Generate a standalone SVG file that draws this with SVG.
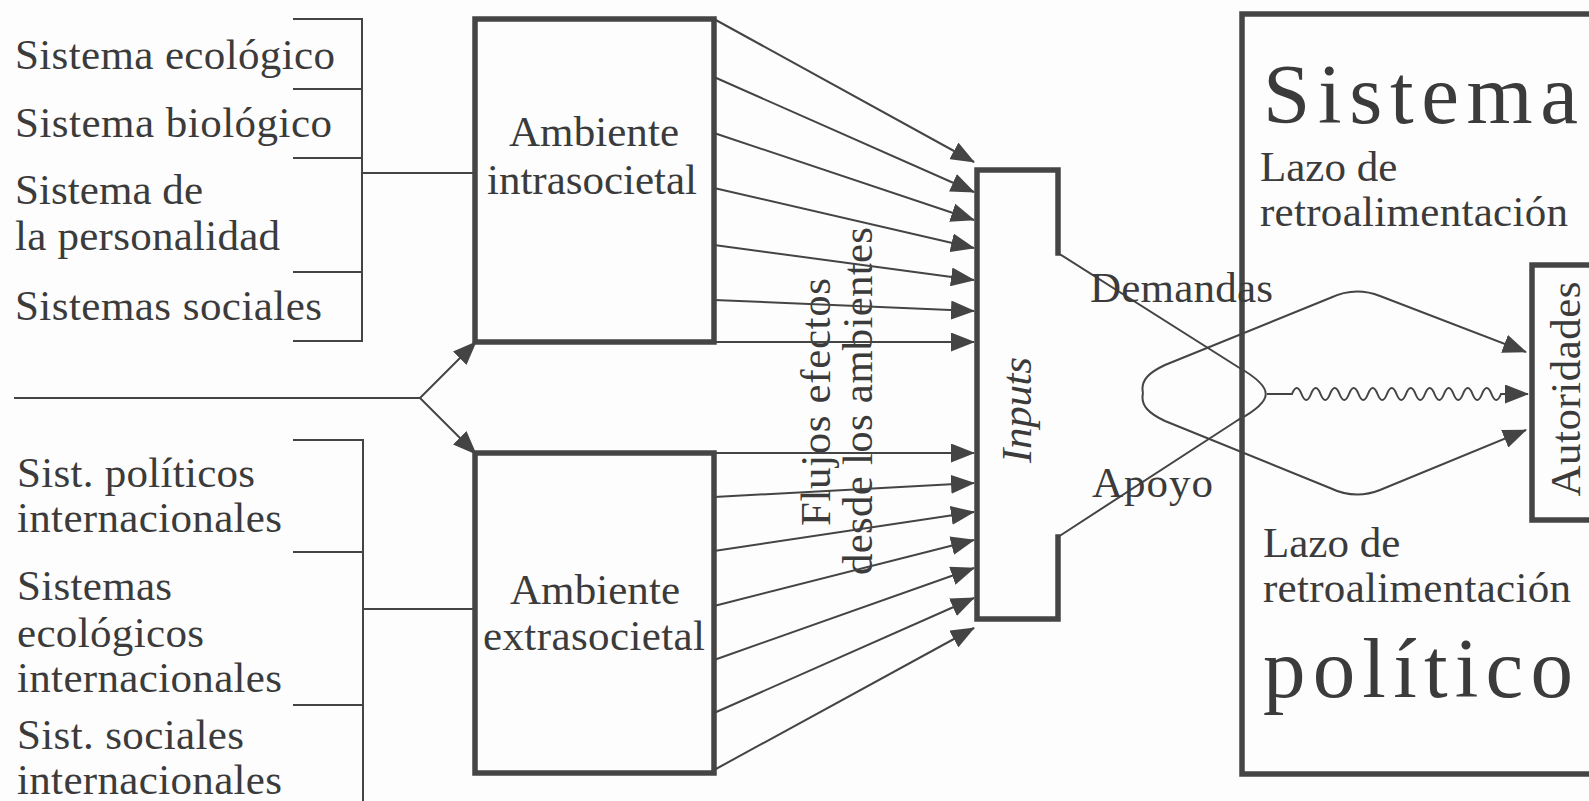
<svg xmlns="http://www.w3.org/2000/svg" width="1589" height="801" viewBox="0 0 1589 801">
<style>
  text { font-family: "Liberation Serif", "Times New Roman", serif; fill: #3b3b3b; font-size: 43px; }
  .big { font-size: 85px; }
  .thin { fill: none; stroke: #444; stroke-width: 2; }
  .thick { fill: none; stroke: #454545; stroke-width: 5.5; stroke-linecap: square; }
  .arr { fill: none; stroke: #444; stroke-width: 2; marker-end: url(#ah); }
  .mid { text-anchor: middle; }
</style>
<defs>
  <marker id="ah" markerUnits="userSpaceOnUse" markerWidth="24" markerHeight="19" viewBox="0 0 24 19" refX="23" refY="9.5" orient="auto">
    <path d="M0,0 L24,9.5 L0,19 z" fill="#444"/>
  </marker>
</defs>
<rect width="1589" height="801" fill="#fdfdfd"/>

<g id="intra-sources">
  <text x="15" y="69" textLength="320">Sistema ecológico</text>
  <text x="15" y="137" textLength="317">Sistema biológico</text>
  <text x="15" y="204" textLength="188">Sistema de</text>
  <text x="15" y="250" textLength="265">la personalidad</text>
  <text x="15" y="320" textLength="307">Sistemas sociales</text>
  <path class="thin" d="M293,19 H362 V341 H293 M293,89 H362 M293,158 H362 M293,272 H362"/>
</g>

<g id="extra-sources">
  <text x="17" y="487" textLength="238">Sist. políticos</text>
  <text x="17" y="532" textLength="265">internacionales</text>
  <text x="17" y="600" textLength="155">Sistemas</text>
  <text x="17" y="647" textLength="187">ecológicos</text>
  <text x="17" y="692" textLength="265">internacionales</text>
  <text x="17" y="749" textLength="227">Sist. sociales</text>
  <text x="17" y="794" textLength="265">internacionales</text>
  <path class="thin" d="M293,440 H363 V801 M293,552 H363 M293,705 H363"/>
</g>

<g id="ambiente-intrasocietal">
  <rect class="thick" x="475" y="19" width="239" height="323"/>
  <text class="mid" x="594" y="146" textLength="170">Ambiente</text>
  <text class="mid" x="592" y="194" textLength="210">intrasocietal</text>
</g>

<g id="ambiente-extrasocietal">
  <rect class="thick" x="475" y="453" width="239" height="320"/>
  <text class="mid" x="595" y="604" textLength="170">Ambiente</text>
  <text class="mid" x="594" y="650" textLength="222">extrasocietal</text>
</g>

<g id="flujos-label">
  <text class="mid" transform="translate(830,402) rotate(-90)" font-size="44" textLength="248">Flujos efectos</text>
  <text class="mid" transform="translate(872,401) rotate(-90)" font-size="44" textLength="348">desde los ambientes</text>
</g>

<g id="inputs">
  <path class="thick" d="M1058,253 V170 H977 V619 H1058 V537"/>
  <text class="mid" transform="translate(1031,410) rotate(-90)" font-style="italic" textLength="106">Inputs</text>
</g>

<g id="sistema-politico">
  <path class="thick" d="M1592,14 H1242 V774 H1592"/>
  <text class="big" x="1263" y="123" textLength="315">Sistema</text>
  <text x="1260" y="181">Lazo de</text>
  <text x="1260" y="226" textLength="308">retroalimentación</text>
  <text x="1263" y="557">Lazo de</text>
  <text x="1263" y="602" textLength="308">retroalimentación</text>
  <text class="big" x="1263" y="697" textLength="310">político</text>
</g>

<g id="autoridades">
  <path class="thick" d="M1592,265 H1532 V520 H1592"/>
  <text class="mid" transform="translate(1580,389) rotate(-90)" textLength="215">Autoridades</text>
</g>

<g id="connectors">
  <path class="thin" d="M362,173 H475"/>
  <path class="thin" d="M363,609 H475"/>
  <path class="thin" d="M14,398 H420"/>
  <path class="arr" d="M420,398 L476,342"/>
  <path class="arr" d="M420,398 L476,454"/>
  <path class="arr" d="M714,19 L974,162"/>
  <path class="arr" d="M714,77 L974,192"/>
  <path class="arr" d="M714,133 L974,220"/>
  <path class="arr" d="M714,188 L974,248"/>
  <path class="arr" d="M714,245 L974,280"/>
  <path class="arr" d="M714,300 L974,311"/>
  <path class="arr" d="M714,342 L974,342"/>
  <path class="arr" d="M714,453 L974,453"/>
  <path class="arr" d="M714,497 L974,483"/>
  <path class="arr" d="M714,551 L974,512"/>
  <path class="arr" d="M714,606 L974,540"/>
  <path class="arr" d="M714,660 L974,568"/>
  <path class="arr" d="M714,713 L974,598"/>
  <path class="arr" d="M714,770 L974,628"/>
  <path class="thin" d="M1058,253 L1238,367 C1275,388 1275,400 1238,420 L1058,537"/>
  <text x="1090" y="302" textLength="183">Demandas</text>
  <text x="1092" y="497" textLength="121">Apoyo</text>
  <path class="arr" d="M1267,394 L1292,394 q4.75,-12 9.5,0 t9.5,0 t9.5,0 t9.5,0 t9.5,0 t9.5,0 t9.5,0 t9.5,0 t9.5,0 t9.5,0 t9.5,0 t9.5,0 t9.5,0 t9.5,0 t9.5,0 t9.5,0 t9.5,0 t9.5,0 t9.5,0 t9.5,0 t9.5,0 t9.5,0 L1528,394"/>
  <path class="arr" d="M1143,393 C1140,380 1150,372 1165,365 L1330,298 Q1355,286 1380,296 L1526,352"/>
  <path class="arr" d="M1143,393 C1140,406 1150,414 1165,421 L1330,488 Q1355,500 1380,490 L1526,430"/>
</g>
</svg>
